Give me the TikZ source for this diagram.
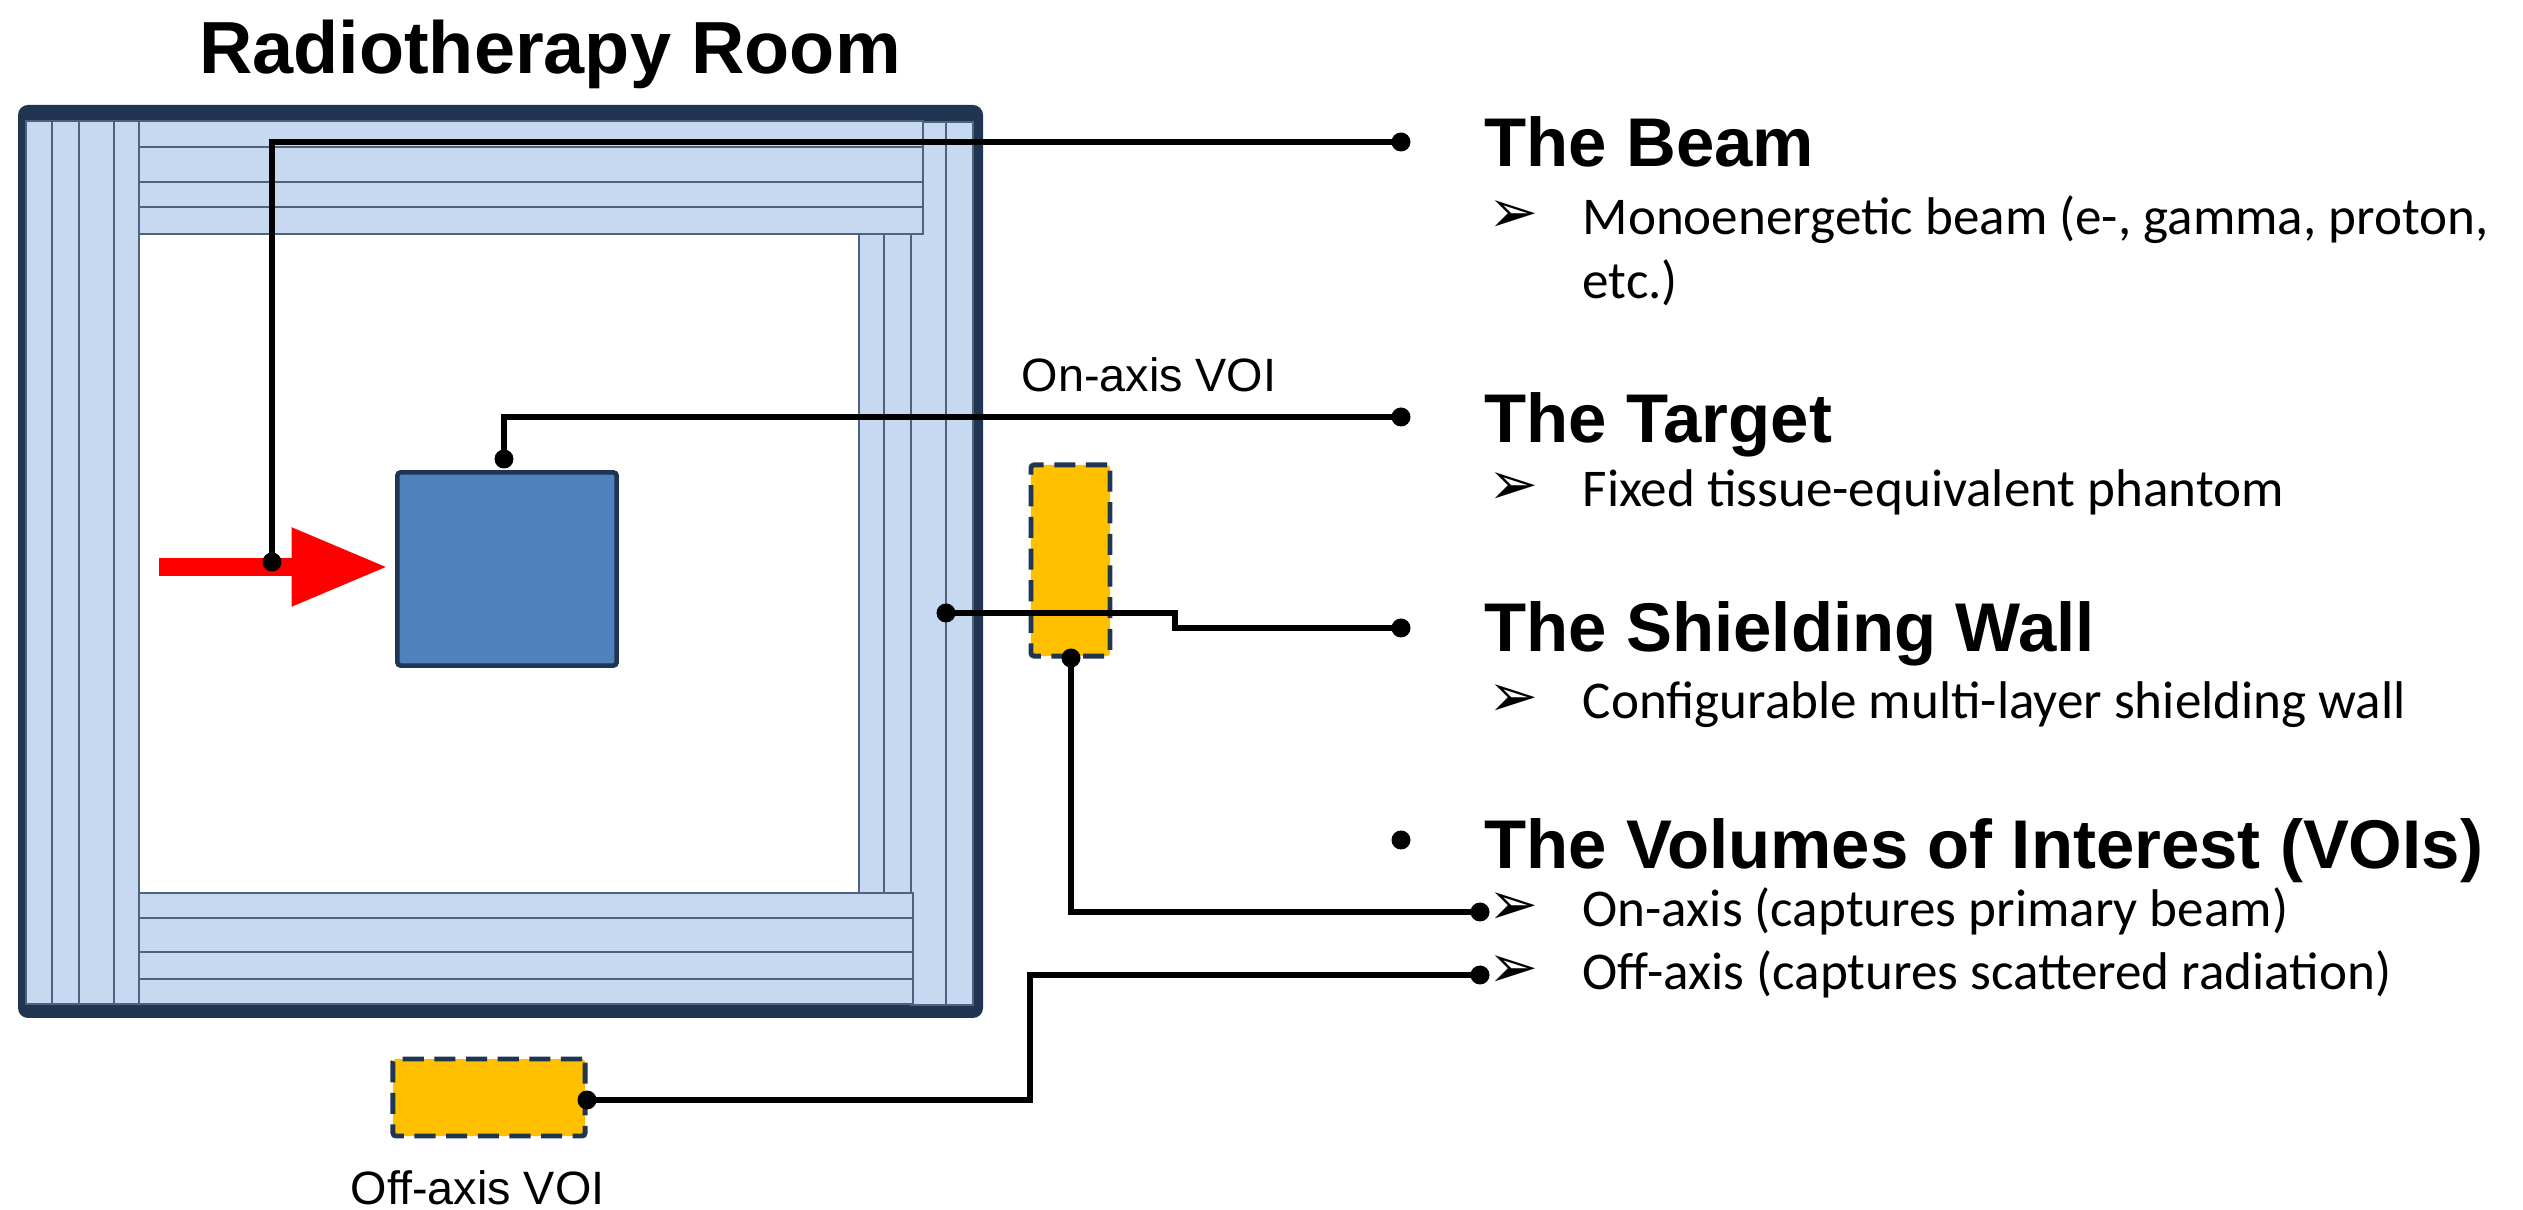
\documentclass[tikz,border=0pt]{standalone}
\usepackage{fontspec}
\setmainfont{Liberation Sans}
\newfontfamily\calfont{Carlito}
\newfontfamily\dingfont{DejaVu Sans}
\usetikzlibrary{arrows.meta}
\definecolor{navy}{HTML}{1F3552}
\definecolor{wallblue}{HTML}{C6D9F1}
\definecolor{wallline}{HTML}{4E6280}
\definecolor{targetblue}{HTML}{4F81BD}
\definecolor{voiyellow}{HTML}{FFC000}

\begin{document}
\begin{tikzpicture}[
    x=0.01cm, y=-0.01cm,
    layer/.style={draw=wallline, fill=wallblue, line width=0.5pt},
    target/.style={draw=navy, fill=targetblue, line width=1.3pt, minimum width=2.19cm, minimum height=1.93cm, inner sep=0pt, rounded corners=0.3mm},
    voi/.style={draw=navy, fill=voiyellow, line width=1.4pt, dash pattern=on 6pt off 3pt, inner sep=0pt, rounded corners=0.3mm},
    dot/.style={circle, fill=black, inner sep=0pt, minimum size=5.4pt},
    link/.style={line width=1.7pt, black},
    beam/.style={red, line width=5.1pt, -{Triangle[length=0.96cm, width=0.74cm]}},
    title/.style={font=\bfseries\fontsize{21}{25}\selectfont, anchor=base, inner sep=0pt},
    head/.style={font=\bfseries\fontsize{19.6}{23}\selectfont, anchor=base west, inner sep=0pt},
    item/.style={font=\calfont\fontsize{15.1}{18}\selectfont, anchor=base west, inner sep=0pt},
    itemmark/.style={font=\dingfont\fontsize{17}{20}\selectfont, anchor=base west, inner sep=0pt},
    vlabel/.style={font=\fontsize{13.3}{16}\selectfont, anchor=base west, inner sep=0pt}
  ]
    \useasboundingbox (0,0) rectangle (2523,1210);

    % room frame and shielding layers
    \fill[navy, rounded corners=1mm] (18,105) rectangle (983,1018);
    \fill[white] (26,121) rectangle (973,1004);
    \foreach \a/\b in {911/946,946/973} \draw[layer] (\a,122) rectangle (\b,1005);
    \foreach \a/\b in {859/884,884/911} \draw[layer] (\a,234) rectangle (\b,893);
    \foreach \a/\b in {26/52,52/79,79/114,114/139} \draw[layer] (\a,121) rectangle (\b,1004);
    \foreach \a/\b in {121/147,147/182,182/207,207/234} \draw[layer] (139,\a) rectangle (923,\b);
    \foreach \a/\b in {893/918,918/952,952/979,979/1004} \draw[layer] (139,\a) rectangle (913,\b);

    \node[title] (title) at (550,74) {Radiotherapy Room};

    \node[target] (target) at (507,569) {};
    \coordinate (beamsrc) at (159,567);
    \draw[beam, shorten >=0.75mm] (beamsrc) -- (beamsrc -| target.west);

    \node[voi, minimum width=0.79cm, minimum height=1.91cm] (onvoi) at (1070.5,560.5) {};
    \node[voi, minimum width=1.92cm, minimum height=0.77cm] (offvoi) at (489,1097.5) {};
    \node[vlabel] (onlabel) at (1021,392) {On-axis VOI};
    \node[vlabel] (offlabel) at (350,1205) {Off-axis VOI};

    % callout lines
    \node[dot] (beamdot) at (272,562) {};
    \node[dot] (beamend) at (1401,142) {};
    \draw[link] (beamdot.center) |- (beamend.center);

    \node[dot] (targetdot) at (504,459) {};
    \node[dot] (targetend) at (1401,417) {};
    \draw[link] (targetdot.center) |- (targetend.center);

    \node[dot] (walldot) at (946,613) {};
    \node[dot] (wallend) at (1401,628) {};
    \draw[link] (walldot.center) -- ++(229,0) |- (wallend.center);

    \node[dot] (ondot) at (1071,658) {};
    \node[dot] (onend) at (1480,912) {};
    \draw[link] (ondot.center) |- (onend.center);

    \node[dot] (offdot) at (587,1100) {};
    \node[dot] (offend) at (1480,975) {};
    \draw[link] (offdot.center) -- ++(443,0) |- (offend.center);

    \node[dot] (voibullet) at (1401,840) {};

    % legend text
    \node[head] (beamhead) at (1484,167) {The Beam};
    \node[head] (targethead) at (1484,443) {The Target};
    \node[head] (wallhead) at (1484,652) {The Shielding Wall};
    \node[head] (voihead) at (1484,869) {The Volumes of Interest (VOIs)};

    \node[item] (beamitem) at (1582,235) {Monoenergetic beam (e-, gamma, proton,};
    \node[item] (beamitem2) at (1582,299) {etc.)};
    \node[item] (targetitem) at (1582,507) {Fixed tissue-equivalent phantom};
    \node[item] (wallitem) at (1582,719) {Configurable multi-layer shielding wall};
    \node[item] (onitem) at (1582,927) {On-axis (captures primary beam)};
    \node[item] (offitem) at (1582,990) {Off-axis (captures scattered radiation)};
    \foreach \n in {beamitem,targetitem,wallitem,onitem,offitem}
      \node[itemmark] (\n-mark) at ([xshift=-0.94cm,yshift=0.6pt]\n.base west) {➢};
  \end{tikzpicture}
\end{document}
